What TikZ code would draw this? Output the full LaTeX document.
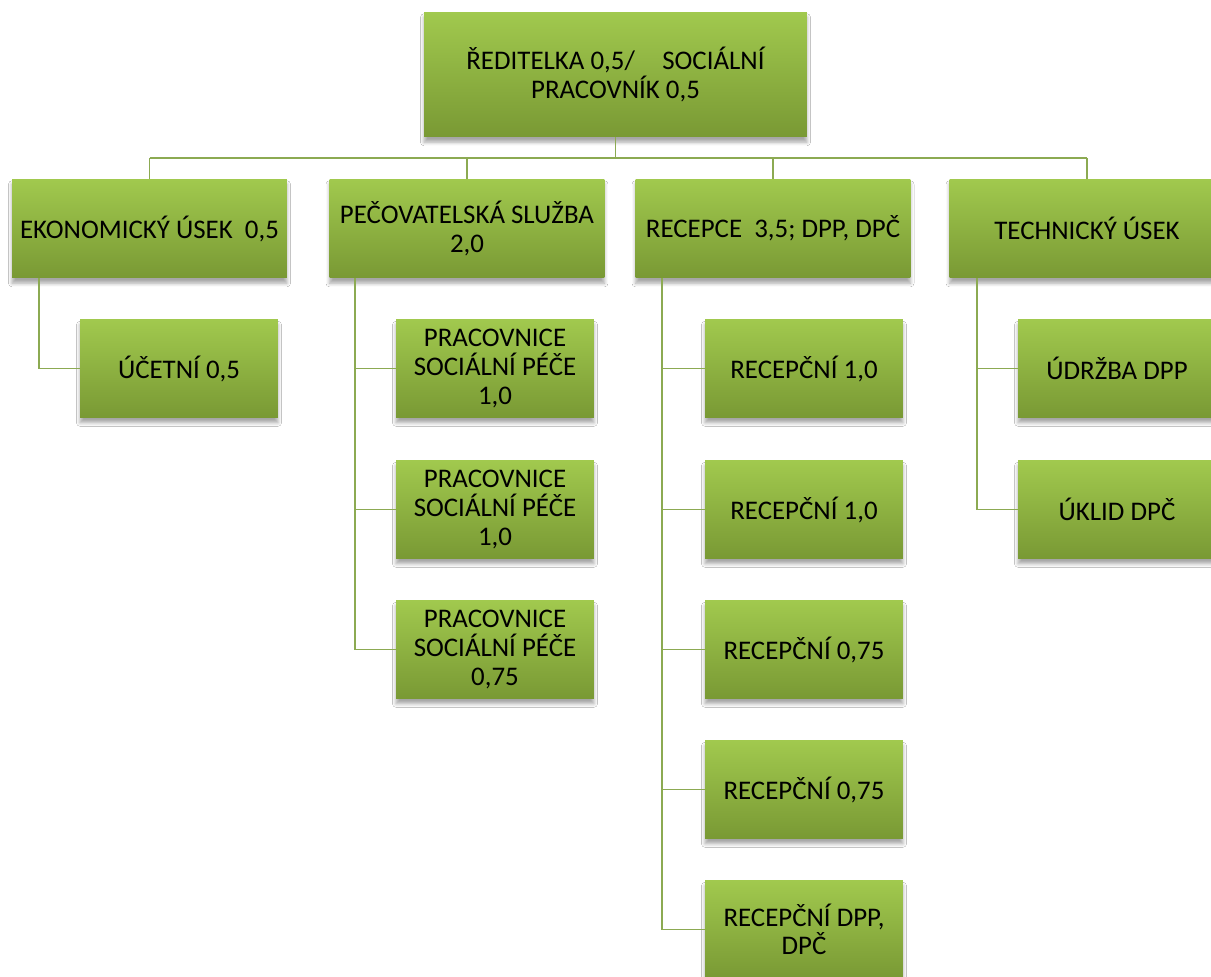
\documentclass[tikz,border=0pt]{standalone}
\usepackage{fontspec}
\setmainfont{Carlito}
\usetikzlibrary{shadows.blur}

\definecolor{boxtop}{RGB}{161,201,78}
\definecolor{boxbot}{RGB}{121,153,52}
\definecolor{linkgreen}{RGB}{140,170,82}

\tikzset{
  orgbox/.style={rectangle, top color=boxtop, bottom color=boxbot,
    blur shadow={shadow xshift=0pt, shadow yshift=-3pt, shadow opacity=35,
      shadow blur radius=2pt, shadow blur steps=6},
    align=center, inner sep=2pt, font=\fontsize{15.3}{16.3}\selectfont},
  headbox/.style={orgbox, minimum width=5.5cm, minimum height=1.98cm},
  subbox/.style={orgbox, minimum width=3.96cm, minimum height=1.96cm},
  link/.style={linkgreen, line width=1pt},
}

\begin{document}
\begin{tikzpicture}[x=0.02cm, y=-0.02cm]
    \clip (0,0) rectangle (1211,977);
    \fill[white] (0,0) rectangle (1211,977);

    % Top box
    \node[orgbox, minimum width=7.66cm, minimum height=2.5cm] (head) at (615.5,74.5)
      {ŘEDITELKA 0,5/\hspace{0.55cm}SOCIÁLNÍ\\PRACOVNÍK 0,5};

    % Departments
    \node[headbox] (ekon) at (149.5,228.5) {EKONOMICKÝ ÚSEK\ \ 0,5};
    \node[headbox] (pec) at (467,228.5) {PEČOVATELSKÁ SLUŽBA\\2,0};
    \node[headbox] (rec) at (773,228.5) {RECEPCE\ \ 3,5; DPP, DPČ};
    \node[headbox] (tech) at (1087,228.5) {TECHNICKÝ ÚSEK};

    % Staff
    \node[subbox] (ucet) at (179,368.5) {ÚČETNÍ 0,5};

    \foreach \y/\name/\txt in {368.5/pec1/{1,0}, 509.5/pec2/{1,0}, 649.5/pec3/{0,75}}
      \node[subbox] (\name) at (495,\y) {PRACOVNICE\\SOCIÁLNÍ PÉČE\\\txt};

    \foreach \y/\name/\txt in {368.5/rec1/{RECEPČNÍ 1,0}, 509.5/rec2/{RECEPČNÍ 1,0},
      649.5/rec3/{RECEPČNÍ 0,75}, 789.5/rec4/{RECEPČNÍ 0,75}, 929.5/rec5/{RECEPČNÍ DPP,\\DPČ}}
      \node[subbox] (\name) at (804,\y) {\txt};

    \node[subbox] (udrz) at (1117,368.5) {ÚDRŽBA DPP};
    \node[subbox] (uklid) at (1117,509.5) {ÚKLID DPČ};

    % Bus from the top box
    \draw[link] (head.south) -- ++(0,21) coordinate (bus);
    \draw[link] (bus -| ekon.north) -- (bus -| tech.north);
    \foreach \n in {ekon,pec,rec,tech}
      \draw[link] (bus -| \n.north) -- (\n.north);

    % Branches
    \draw[link] ([xshift=0.54cm]ekon.south west) |- (ucet.west);
    \foreach \n in {pec1,pec2,pec3}
      \draw[link] ([xshift=0.52cm]pec.south west) |- (\n.west);
    \foreach \n in {rec1,rec2,rec3,rec4,rec5}
      \draw[link] ([xshift=0.54cm]rec.south west) |- (\n.west);
    \foreach \n in {udrz,uklid}
      \draw[link] ([xshift=0.56cm]tech.south west) |- (\n.west);
  \end{tikzpicture}
\end{document}
